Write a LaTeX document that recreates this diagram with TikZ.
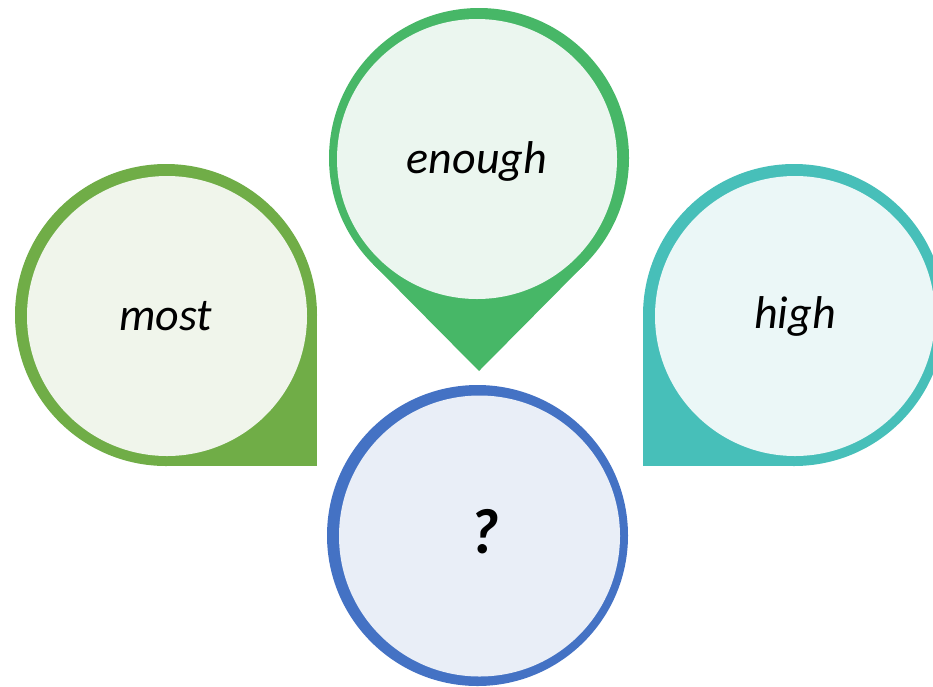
\documentclass[tikz,border=0pt]{standalone}
\usepackage{fontspec}
\setmainfont{Carlito}
\definecolor{gOut}{HTML}{70AD47}
\definecolor{gIn}{HTML}{F0F5EB}
\definecolor{eOut}{HTML}{47B767}
\definecolor{eIn}{HTML}{EBF6EF}
\definecolor{tOut}{HTML}{47BFB9}
\definecolor{tIn}{HTML}{EBF7F7}
\definecolor{bOut}{HTML}{4472C4}
\definecolor{bIn}{HTML}{E9EEF7}
\begin{document}
\begin{tikzpicture}[x=1pt,y=-1pt,
  lbl/.style={anchor=base,inner sep=0pt,font=\fontsize{46}{50}\selectfont\itshape},
  qlbl/.style={anchor=base,inner sep=0pt,font=\fontsize{64}{70}\selectfont\bfseries\itshape}]
\useasboundingbox (0,0) rectangle (933,686);
\clip (0,0) rectangle (933,686);
% most (left)
\fill[gOut] (166,315) circle[radius=151pt];
\fill[gOut] (166,315) rectangle (317,466);
\fill[gIn] (167,316) circle[radius=140pt];
% enough (top)
\fill[eOut] (479,158) circle[radius=150pt];
\fill[eOut] (479,158) -- (585,264) -- (479,371) -- (373,264) -- cycle;
\fill[eIn] (477,159) circle[radius=140pt];
% high (right)
\fill[tOut] (794,315) circle[radius=151pt];
\fill[tOut] (643,315) rectangle (794,466);
\fill[tIn] (795,316) circle[radius=140pt];
% ? (bottom)
\fill[bOut] (477.5,535.5) circle[radius=150.5pt];
\fill[bIn] (479.5,536) circle[radius=140.5pt];
% labels
\node[lbl] (most) at (166,330) {most};
\node[lbl] (enough) at (477,173) {enough};
\node[lbl] (high) at (795,328) {high};
\node[qlbl] (q) at (484,553) {?};
\end{tikzpicture}
\end{document}
